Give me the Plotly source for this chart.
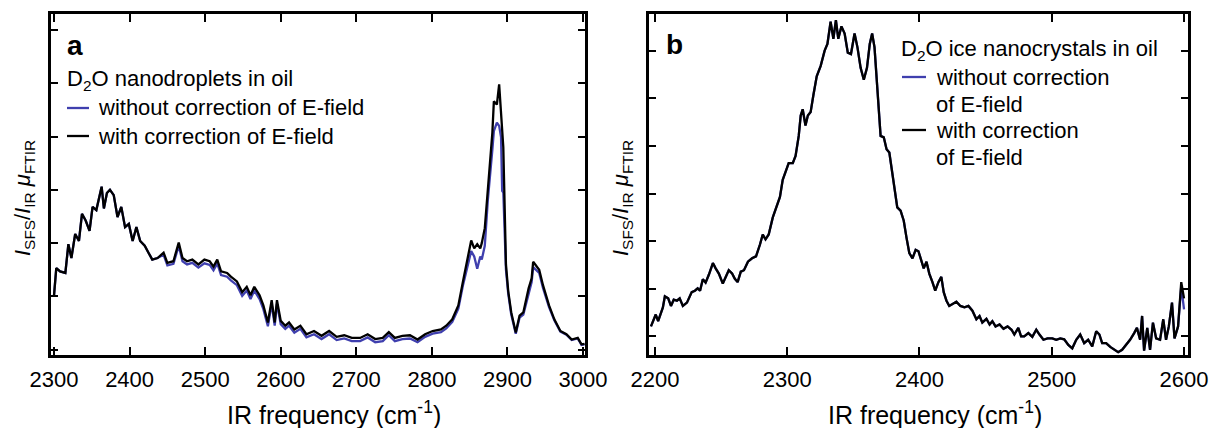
import plotly.graph_objects as go

# ---------------- Panel a : D2O nanodroplets in oil ----------------
a_freq = [2300, 2303, 2308, 2315, 2319, 2323, 2328, 2333, 2337, 2342, 2347, 2351, 2356, 2363, 2366,
          2370, 2374, 2379, 2384, 2389, 2394, 2399, 2404, 2409, 2414, 2420, 2425, 2430, 2437, 2445,
          2450, 2458, 2465, 2470, 2476, 2483, 2491, 2499, 2506, 2511, 2516, 2521, 2529, 2534, 2542,
          2549, 2555, 2560, 2565, 2572, 2577, 2583, 2588, 2592, 2595, 2600, 2606, 2611, 2618, 2626,
          2634, 2644, 2654, 2664, 2674, 2684, 2694, 2705, 2715, 2725, 2735, 2743, 2751, 2761, 2771,
          2781, 2791, 2801, 2812, 2819, 2827, 2835, 2841, 2846, 2852, 2856, 2860, 2864, 2866, 2870,
          2874, 2880, 2882, 2886, 2889, 2891.5, 2893, 2894.5, 2898, 2901, 2905, 2911, 2916, 2921, 2928,
          2932, 2934, 2939, 2942, 2947, 2955, 2962, 2970, 2978, 2985, 2993, 2998, 3002]

a_with = [1.02, 1.53, 1.47, 1.44, 1.98, 1.72, 2.17, 2.04, 2.55, 2.42, 2.23, 2.68, 2.62, 3.06, 2.65,
          2.94, 3.00, 2.90, 2.49, 2.68, 2.30, 2.36, 2.04, 2.30, 2.04, 1.95, 1.82, 1.69, 1.72, 1.82,
          1.63, 1.66, 2.01, 1.72, 1.66, 1.69, 1.60, 1.69, 1.66, 1.56, 1.69, 1.47, 1.44, 1.37, 1.28,
          1.08, 1.18, 1.02, 1.18, 1.02, 0.83, 0.51, 0.93, 0.51, 0.93, 0.54, 0.45, 0.51, 0.38, 0.45,
          0.29, 0.35, 0.26, 0.35, 0.24, 0.27, 0.22, 0.22, 0.29, 0.20, 0.22, 0.33, 0.22, 0.26, 0.27,
          0.19, 0.29, 0.35, 0.38, 0.45, 0.57, 0.83, 1.27, 1.60, 2.05, 1.90, 1.98, 1.90, 2.00, 2.28,
          3.04, 4.07, 4.66, 4.60, 4.98, 4.37, 3.97, 3.80, 1.60, 1.10, 0.70, 0.32, 0.64, 0.70, 1.15,
          1.34, 1.65, 1.56, 1.50, 1.21, 0.83, 0.57, 0.35, 0.29, 0.19, 0.22, 0.10, 0.11]

a_without = [1.02, 1.53, 1.47, 1.44, 1.98, 1.72, 2.17, 2.04, 2.55, 2.42, 2.23, 2.68, 2.62, 3.06, 2.65,
             2.94, 3.00, 2.90, 2.49, 2.68, 2.30, 2.36, 2.04, 2.30, 2.04, 1.95, 1.82, 1.69, 1.72, 1.78,
             1.58, 1.61, 1.95, 1.66, 1.60, 1.63, 1.54, 1.62, 1.59, 1.49, 1.62, 1.40, 1.37, 1.30, 1.21,
             1.01, 1.11, 0.95, 1.11, 0.95, 0.76, 0.44, 0.86, 0.45, 0.86, 0.48, 0.39, 0.45, 0.32, 0.39,
             0.23, 0.29, 0.20, 0.29, 0.18, 0.21, 0.16, 0.16, 0.23, 0.14, 0.16, 0.27, 0.16, 0.20, 0.21,
             0.14, 0.24, 0.30, 0.33, 0.40, 0.52, 0.77, 1.20, 1.50, 1.85, 1.75, 1.52, 1.75, 1.69, 1.95,
             2.80, 3.75, 4.10, 4.26, 4.20, 3.99, 2.98, 2.95, 1.50, 1.05, 0.66, 0.30, 0.60, 0.66, 1.08,
             1.27, 1.55, 1.48, 1.44, 1.16, 0.80, 0.55, 0.34, 0.28, 0.18, 0.21, 0.09, 0.10]

# ---------------- Panel b : D2O ice nanocrystals in oil ----------------
b_freq = [2197.0, 2200.6, 2202.4, 2206.0, 2207.5, 2210.0, 2212.1, 2214.2, 2216.6, 2218.7, 2221.1,
          2224.2, 2227.8, 2230.2, 2232.3, 2234.1, 2236.2, 2238.3, 2240.8, 2243.8, 2245.9, 2248.3,
          2251.3, 2253.4, 2255.8, 2258.3, 2260.4, 2262.5, 2264.9, 2267.3, 2270.3, 2273.4, 2276.4,
          2279.4, 2281.5, 2283.6, 2286.0, 2289.1, 2292.1, 2294.5, 2296.6, 2298.7, 2301.1, 2304.2,
          2306.3, 2308.7, 2310.2, 2311.7, 2313.8, 2315.6, 2317.7, 2319.8, 2322.3, 2325.3, 2328.3,
          2330.4, 2332.8, 2334.9, 2336.8, 2338.6, 2341.0, 2343.4, 2345.8, 2348.2, 2350.9, 2353.1,
          2355.5, 2357.9, 2360.3, 2362.4, 2364.2, 2366.0, 2368.2, 2370.6, 2373.0, 2375.1, 2377.2,
          2379.0, 2381.1, 2383.2, 2385.7, 2388.1, 2390.2, 2392.3, 2394.7, 2397.1, 2399.2, 2401.4,
          2403.2, 2405.3, 2407.4, 2409.8, 2411.9, 2414.3, 2416.5, 2418.3, 2420.4, 2422.5, 2424.9,
          2427.9, 2430.9, 2434.0, 2437.0, 2440.0, 2443.0, 2445.4, 2447.5, 2450.6, 2453.0, 2455.1,
          2457.5, 2460.5, 2463.5, 2466.6, 2469.6, 2471.7, 2474.7, 2476.8, 2479.2, 2482.3, 2485.3,
          2488.3, 2490.7, 2493.7, 2496.8, 2500.4, 2503.4, 2506.4, 2509.4, 2512.5, 2515.5, 2518.5,
          2521.5, 2524.5, 2527.5, 2530.6, 2533.6, 2536.0, 2538.1, 2541.1, 2544.2, 2547.2, 2550.2,
          2553.2, 2556.2, 2559.2, 2562.3, 2564.4, 2566.8, 2568.3, 2569.8, 2572.2, 2574.3, 2576.5,
          2578.9, 2581.9, 2584.3, 2586.4, 2588.5, 2590.9, 2592.8, 2595.5, 2597.9, 2600.0]

b_with = [0.21, 0.46, 0.32, 0.61, 0.84, 0.80, 0.64, 0.77, 0.75, 0.80, 0.64,
          0.71, 0.93, 0.96, 1.01, 0.96, 1.20, 1.13, 1.30, 1.54, 1.43, 1.32,
          1.11, 1.25, 1.39, 1.32, 1.21, 1.14, 1.36, 1.39, 1.57, 1.64, 1.68,
          1.93, 2.14, 2.04, 2.14, 2.50, 2.75, 2.93, 3.29, 3.46, 3.64, 3.64,
          3.79, 4.21, 4.64, 4.77, 4.43, 4.64, 4.71, 5.07, 5.46, 5.68, 6.00,
          6.14, 6.61, 6.25, 6.64, 6.25, 6.51, 6.36, 5.96, 5.93, 6.36, 6.07,
          5.64, 5.39, 5.64, 6.14, 6.36, 6.07, 5.14, 4.21, 4.18, 3.93, 3.86,
          3.50, 3.07, 2.71, 2.64, 2.43, 2.07, 1.75, 1.64, 1.82, 1.79, 1.61,
          1.43, 1.57, 1.32, 1.14, 0.96, 1.14, 1.25, 0.93, 0.75, 0.64, 0.68,
          0.73, 0.64, 0.61, 0.64, 0.54, 0.36, 0.43, 0.29, 0.37, 0.25, 0.32,
          0.21, 0.25, 0.16, 0.21, 0.14, 0.04, 0.18, 0.00, 0.00, 0.07, -0.01,
          0.14, 0.04, -0.07, -0.04, -0.04, -0.07, -0.04, -0.06, -0.18, -0.25, -0.07,
          0.04, -0.14, -0.07, -0.21, 0.11, 0.04, -0.14, -0.14, -0.22, -0.28, -0.33,
          -0.28, -0.18, -0.07, 0.07, 0.18, -0.07, 0.43, -0.30, 0.18, -0.28, 0.29,
          -0.04, -0.07, 0.36, -0.07, 0.21, 0.71, -0.04, 0.21, 1.14, 0.80]

b_without = b_with[:-2] + [1.05, 0.57]

x_ticks_a = [2300, 2400, 2500, 2600, 2700, 2800, 2900, 3000]
x_ticks_b = [2200, 2300, 2400, 2500, 2600]
y_ticks = [0, 1, 2, 3, 4, 5, 6]

BLUE = "#3f3fae"
BLACK = "#000000"
FONT = "Liberation Sans, Arial, sans-serif"
W, H = 1223, 428

fig = go.Figure()
fig.add_trace(go.Scatter(x=a_freq, y=a_without, mode="lines", line=dict(color=BLUE, width=2.3),
                         xaxis="x", yaxis="y", showlegend=False))
fig.add_trace(go.Scatter(x=a_freq, y=a_with, mode="lines", line=dict(color=BLACK, width=2.3),
                         xaxis="x", yaxis="y", showlegend=False))
fig.add_trace(go.Scatter(x=b_freq, y=b_without, mode="lines", line=dict(color=BLUE, width=2.3),
                         xaxis="x2", yaxis="y2", showlegend=False))
fig.add_trace(go.Scatter(x=b_freq, y=b_with, mode="lines", line=dict(color=BLACK, width=2.3),
                         xaxis="x2", yaxis="y2", showlegend=False))

def px(x):
    return x / W

def py(y):
    return 1 - y / H

axis_common = dict(showline=True, linecolor="black", linewidth=2.5, mirror="ticks",
                   ticks="inside", tickcolor="black", tickwidth=1.8, showgrid=False,
                   zeroline=False, automargin=False)

ydom = [py(355), py(14)]
fig.update_layout(
    width=W, height=H, margin=dict(l=0, r=0, t=0, b=0, autoexpand=False),
    paper_bgcolor="white", plot_bgcolor="white",
    font=dict(family=FONT, color="black", size=22),
    xaxis=dict(domain=[px(51), px(585)], range=[2296, 3002.6], tickvals=x_ticks_a,
               ticklen=8, tickfont=dict(size=22), anchor="y", ticklabelstandoff=3, **axis_common),
    yaxis=dict(domain=ydom, range=[-0.1, 6.3], tickvals=y_ticks, showticklabels=False,
               ticklen=7, anchor="x", **axis_common),
    xaxis2=dict(domain=[px(649), px(1188)], range=[2195.5, 2603], tickvals=x_ticks_b,
                ticklen=8, tickfont=dict(size=22), anchor="y2", ticklabelstandoff=3, **axis_common),
    yaxis2=dict(domain=ydom, range=[-0.39, 6.77], tickvals=y_ticks, showticklabels=False,
                ticklen=7, anchor="x2", **axis_common),
)

ann = []
ytitle = "<i>I</i><sub>SFS</sub>/<i>I</i><sub>IR</sub> <i>μ</i><sub>FTIR</sub>"
xtitle = "IR frequency (cm<sup>-1</sup>)"
for xc in (24, 622):
    ann.append(dict(x=px(xc), y=py(198), xref="paper", yref="paper", text=ytitle, textangle=-90,
                    showarrow=False, xanchor="center", yanchor="middle", font=dict(size=22)))
for xc in (334, 935):
    ann.append(dict(x=px(xc), y=py(413), xref="paper", yref="paper", text=xtitle,
                    showarrow=False, xanchor="center", yanchor="middle", font=dict(size=25)))
# panel letters
ann.append(dict(x=px(65), y=py(45), xref="paper", yref="paper", text="<b>a</b>", showarrow=False,
                xanchor="left", yanchor="middle", font=dict(size=28)))
ann.append(dict(x=px(664), y=py(44), xref="paper", yref="paper", text="<b>b</b>", showarrow=False,
                xanchor="left", yanchor="middle", font=dict(size=28)))
# legend a
legend_a = [(65, 80, "D<sub>2</sub>O nanodroplets in oil"),
            (96, 108, "without correction of E-field"),
            (96, 136, "with correction of E-field")]
for x0, y0, t in legend_a:
    ann.append(dict(x=px(x0), y=py(y0), xref="paper", yref="paper", text=t, showarrow=False,
                    xanchor="left", yanchor="middle", font=dict(size=22)))
legend_b = [(899, 50, "D<sub>2</sub>O ice nanocrystals in oil"),
            (934, 77, "without correction"),
            (934, 104, "of E-field"),
            (934, 130, "with correction"),
            (934, 157, "of E-field")]
for x0, y0, t in legend_b:
    ann.append(dict(x=px(x0), y=py(y0), xref="paper", yref="paper", text=t, showarrow=False,
                    xanchor="left", yanchor="middle", font=dict(size=22)))
fig.update_layout(annotations=ann)

shapes = []
for (x0, x1, y0, c) in [(67, 89, 108, BLUE), (67, 89, 136, BLACK),
                        (902, 926, 77, BLUE), (902, 926, 130, BLACK)]:
    shapes.append(dict(type="line", xref="paper", yref="paper", x0=px(x0), x1=px(x1),
                       y0=py(y0), y1=py(y0), line=dict(color=c, width=2.3)))
fig.update_layout(shapes=shapes)

fig.write_html("out.html")
